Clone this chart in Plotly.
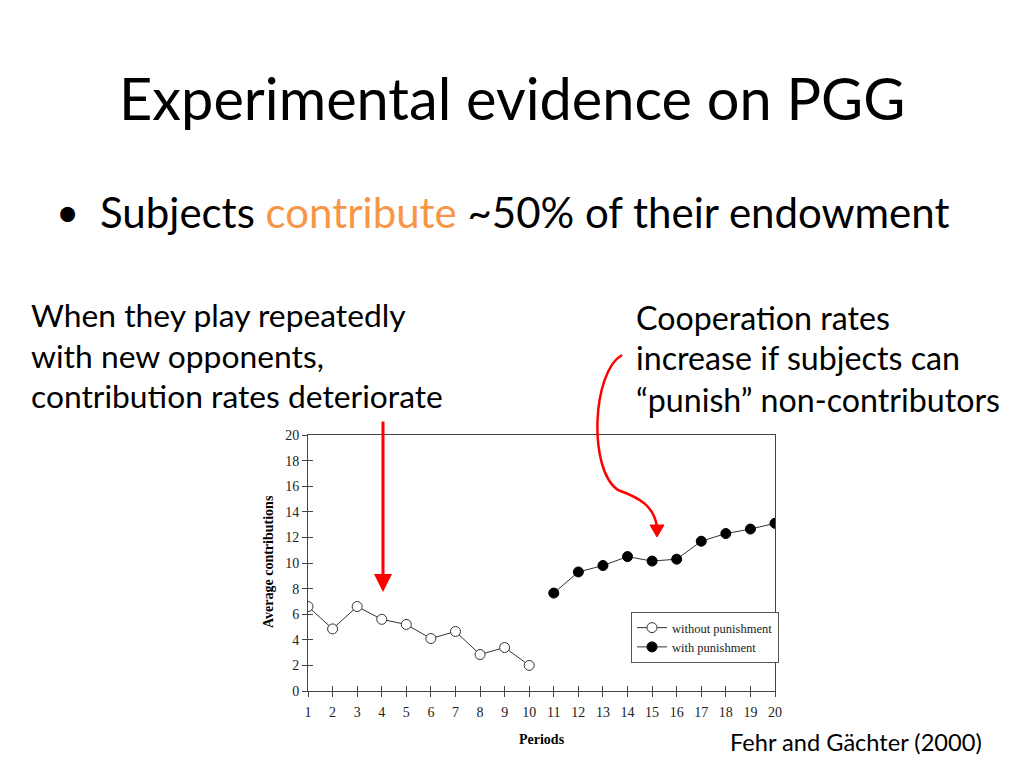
import plotly.graph_objects as go

# ---- data ----
periods_without = [1, 2, 3, 4, 5, 6, 7, 8, 9, 10]
contrib_without = [6.6, 4.85, 6.6, 5.6, 5.2, 4.1, 4.65, 2.85, 3.4, 2.0]
periods_with = [11, 12, 13, 14, 15, 16, 17, 18, 19, 20]
contrib_with = [7.65, 9.3, 9.8, 10.5, 10.15, 10.3, 11.7, 12.3, 12.65, 13.1]
x_ticks = list(range(1, 21))
y_ticks = [0, 2, 4, 6, 8, 10, 12, 14, 16, 18, 20]

W, H = 1024, 768
def px(x): return x / W
def py(y): return 1 - y / H

SERIF = "Liberation Serif"
SANS = "Lato"

fig = go.Figure()
fig.add_trace(go.Scatter(
    x=periods_without, y=contrib_without, mode="lines+markers",
    name="without punishment",
    line=dict(color="#333333", width=1),
    marker=dict(symbol="circle", size=10, color="white", line=dict(color="#333333", width=1)),
))
fig.add_trace(go.Scatter(
    x=periods_with, y=contrib_with, mode="lines+markers",
    name="with punishment",
    line=dict(color="#333333", width=1),
    marker=dict(symbol="circle", size=10, color="black", line=dict(color="black", width=1)),
))
# empty trace on overlay axes to draw inside-ticks (crossing tick look)
fig.add_trace(go.Scatter(x=[], y=[], xaxis="x2", yaxis="y2", showlegend=False, hoverinfo="skip"))

x_dom = [px(308), px(775)]
y_dom = [py(691), py(435)]

axis_common = dict(showgrid=False, zeroline=False, ticklen=5, tickcolor="#444444",
                   linecolor="#444444", linewidth=1, automargin=False,
                   tickfont=dict(family=SERIF, size=14, color="#222222"))

fig.update_layout(
    template="none",
    width=W, height=H, autosize=False,
    margin=dict(l=0, r=0, t=0, b=0, pad=0, autoexpand=False),
    paper_bgcolor="white", plot_bgcolor="white",
    xaxis=dict(domain=x_dom, range=[1, 20], tickmode="array", tickvals=x_ticks,
               ticks="outside", mirror=True, ticklabelstandoff=3, **axis_common),
    yaxis=dict(domain=y_dom, range=[0, 20], tickmode="array", tickvals=y_ticks,
               ticks="outside", mirror=True, **axis_common),
    xaxis2=dict(overlaying="x", matches="x", range=[1, 20], tickmode="array", tickvals=x_ticks,
                ticks="inside", ticklen=5, tickcolor="#444444", showticklabels=False, automargin=False,
                showgrid=False, zeroline=False, showline=False, anchor="y"),
    yaxis2=dict(overlaying="y", range=[0, 20], tickmode="array", tickvals=y_ticks,
                ticks="inside", ticklen=5, tickcolor="#444444", showticklabels=False, automargin=False,
                showgrid=False, zeroline=False, showline=False, anchor="x"),
    legend=dict(x=px(631), y=py(612), xanchor="left", yanchor="top",
                bgcolor="white", bordercolor="#555555", borderwidth=1,
                font=dict(family=SERIF, size=12.5, color="#222222"),
                itemwidth=30, tracegroupgap=0),
    showlegend=True,
)

ann = []
def text(t, x, y, size, xanchor="left", family=SANS, color="black", bold=False, angle=0):
    ann.append(dict(text=("<b>%s</b>" % t) if bold else t, x=px(x), y=py(y), xref="paper", yref="paper",
                    xanchor=xanchor, yanchor="middle", showarrow=False, textangle=angle,
                    font=dict(family=family, size=size, color=color)))

text("Experimental evidence on PGG", 512, 97, 57.7, xanchor="center")
text("•", 54, 212, 40)
text("Subjects <span style='color:#F79646'>contribute</span> ~50% of their endowment", 98, 212, 42)
for i, line in enumerate(["When they play repeatedly", "with new opponents,", "contribution rates deteriorate"]):
    text(line, 29, 315 + i * 40.5, 31.8)
for i, line in enumerate(["Cooperation rates", "increase if subjects can", "“punish” non-contributors"]):
    text(line, 634, 317 + i * 41, 32.2)
text("Fehr and Gächter (2000)", 728, 742, 23.6)
text("Average contributions", 268, 562, 14, xanchor="center", family=SERIF, bold=True, angle=-90)
text("Periods", 542, 739, 14, xanchor="center", family=SERIF, bold=True)

# straight red arrow
ann.append(dict(x=px(383), y=py(592), xref="paper", yref="paper", ax=0, ay=-172,
                showarrow=True, arrowhead=2, arrowsize=1.2, arrowwidth=3, arrowcolor="#FF0000", text=""))
fig.update_layout(annotations=ann)

# curved red arrow
def pt(x, y): return "%.5f,%.5f" % (px(x), py(y))
path = "M %s C %s %s %s C %s %s %s" % (
    pt(622, 355), pt(592, 372), pt(588, 470), pt(618, 490),
    pt(640, 498), pt(654, 506), pt(657, 527))
fig.add_shape(type="path", path=path, xref="paper", yref="paper",
              line=dict(color="#FF0000", width=2.5))
fig.add_shape(type="path", path="M %s L %s L %s Z" % (pt(650, 525), pt(664, 525), pt(657, 537)),
              xref="paper", yref="paper", line=dict(color="#FF0000", width=1), fillcolor="#FF0000")

fig.write_html("out.html", config={"displayModeBar": False},
               post_script="document.body.style.margin='0';document.body.style.overflow='hidden';")
